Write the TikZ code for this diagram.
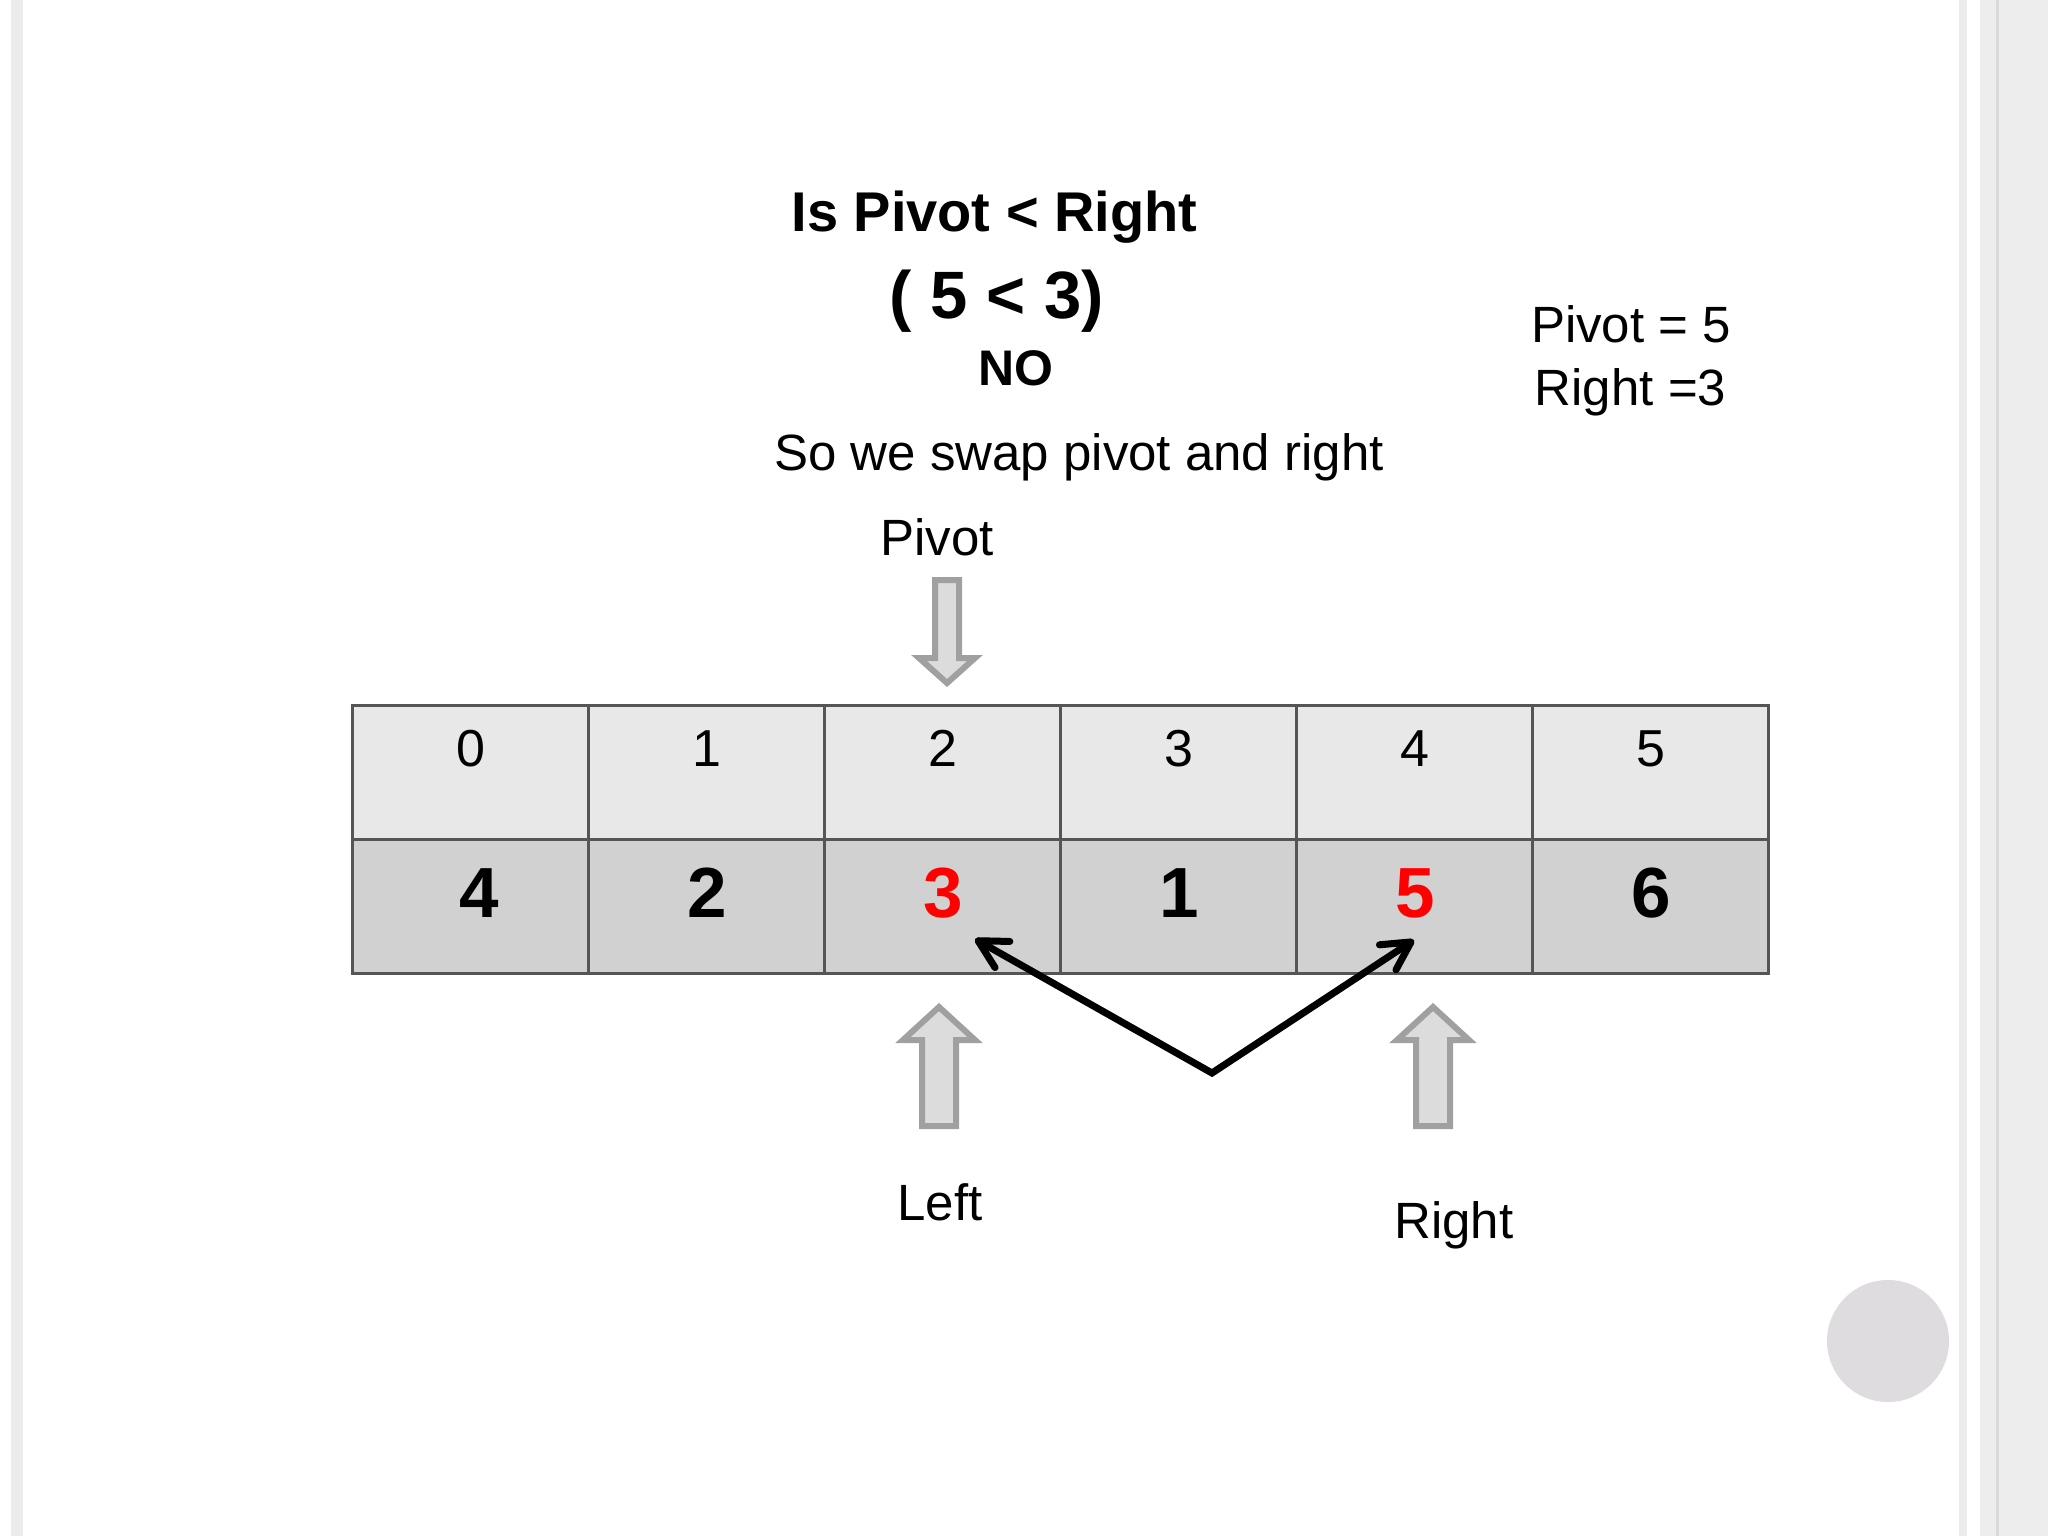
\documentclass[tikz,border=0pt]{standalone}
\usepackage{fontspec}
\setmainfont{Liberation Sans}
\usetikzlibrary{arrows.meta}
\definecolor{stripe}{HTML}{EBEBEB}
\definecolor{stripeb}{HTML}{EDEDED}
\definecolor{stripedk}{HTML}{DADADA}
\definecolor{dotfill}{HTML}{DEDCDE}
\definecolor{celltop}{HTML}{E8E8E8}
\definecolor{cellbot}{HTML}{D1D1D1}
\definecolor{cellline}{HTML}{555555}
\definecolor{arrowline}{HTML}{A0A0A0}
\definecolor{arrowfill}{HTML}{DCDCDC}
\definecolor{hotred}{HTML}{FF0000}
\tikzset{
  idxcell/.style={draw=cellline, line width=1.5pt, fill=celltop, minimum width=118pt, minimum height=67pt, inner sep=0pt, outer sep=0pt},
  valcell/.style={idxcell, fill=cellbot},
  idxtxt/.style={anchor=base, inner sep=0pt, font=\fontsize{26}{30}\selectfont},
  valtxt/.style={anchor=base, inner sep=0pt, font=\fontsize{35.5}{40}\selectfont\bfseries},
  regtxt/.style={anchor=base, inner sep=0pt, font=\fontsize{25.5}{31.5}\selectfont},
  hollow/.style={draw=arrowline, fill=arrowfill, line width=3pt, line join=miter},
  swaparrow/.style={line width=3.5pt, line join=miter, {Straight Barb[round,length=14pt,width=15pt]}-{Straight Barb[round,length=14pt,width=15pt]}},
}
\begin{document}
\begin{tikzpicture}[x=0.5pt,y=-0.5pt]
\useasboundingbox (0,0) rectangle (2048,1536);
\fill[white] (0,0) rectangle (2048,1536);
% page border stripes
\fill[stripe] (11,0) rectangle (23,1536);
\fill[stripe] (1959,0) rectangle (1967,1536);
\fill[stripeb] (1980,0) rectangle (2048,1536);
\fill[stripedk] (1996,0) rectangle (1999,1536);
\fill[dotfill] (1888,1341) circle (61);

% titles
\node[regtxt, font=\fontsize{28}{32}\selectfont\bfseries] (t1) at (994.5,231) {Is Pivot < Right};
\node[regtxt, font=\fontsize{33.5}{38}\selectfont\bfseries] (t2) at (997,318) {( 5 < 3)};
\node[regtxt, font=\fontsize{25}{30}\selectfont\bfseries] (t3) at (1015.5,385) {NO};
\node[regtxt] (t4) at (1079,470) {So we swap pivot and right};
\node[regtxt] (pv) at (1631,342) {Pivot = 5};
\node[regtxt] (rv) at (1630.5,405) {Right =3};

% table
\foreach \i in {0,...,5} {
  \node[idxcell] (c\i) at (470+236*\i,772) {};
  \node[valcell] (v\i) at (470+236*\i,906) {};
  \node[idxtxt] (n\i) at (471+236*\i,766) {\i};
}
\node[valtxt] (w0) at (479,917) {4};
\node[valtxt] (w1) at (707,917) {2};
\node[valtxt, text=hotred] (w2) at (943,917) {3};
\node[valtxt] (w3) at (1179,917) {1};
\node[valtxt, text=hotred] (w4) at (1415,917) {5};
\node[valtxt] (w5) at (1651,917) {6};

% pivot down arrow
\draw[hollow] (935,580) -- (959,580) -- (959,658) -- (975,658) -- (947,683) -- (919,658) -- (935,658) -- cycle;
\node[regtxt] (plab) at (937,555) {Pivot};

% left up arrow
\draw[hollow] (922,1126) -- (956,1126) -- (956,1040) -- (975,1040) -- (939,1007) -- (903,1040) -- (922,1040) -- cycle;
\node[regtxt] (llab) at (940,1220) {Left};

% right up arrow
\draw[hollow] (1416,1126) -- (1450,1126) -- (1450,1040) -- (1469,1040) -- (1433,1007) -- (1397,1040) -- (1416,1040) -- cycle;
\node[regtxt] (rlab) at (1454,1238) {Right};

% swap arrow
\coordinate (lt) at (975,939);
\coordinate (vx) at (1212,1073);
\coordinate (rt) at (1414,940);
\draw[swaparrow, black!30, opacity=0.5, shift={(4,5)}] (lt) -- (vx) -- (rt);
\draw[swaparrow] (lt) -- (vx) -- (rt);
\end{tikzpicture}
\end{document}
